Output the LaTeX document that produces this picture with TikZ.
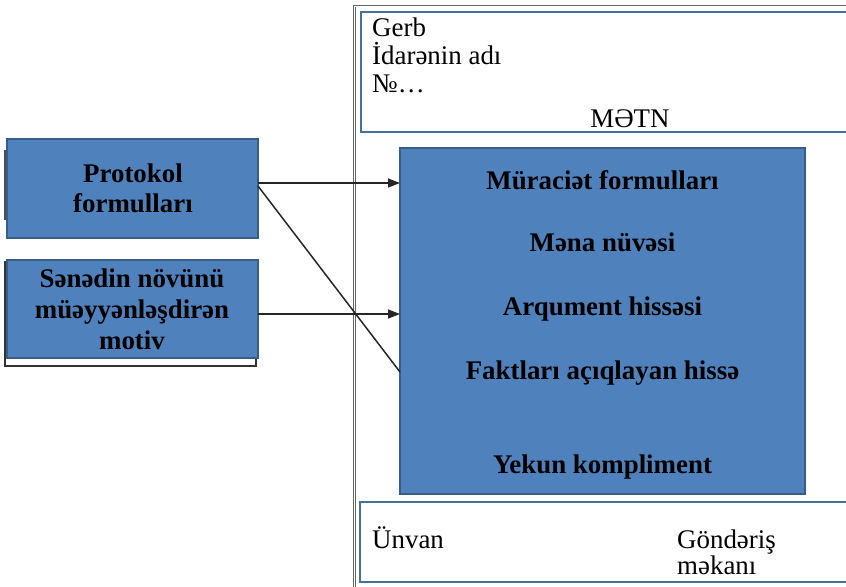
\documentclass[tikz,border=0pt]{standalone}
\usepackage{fontspec}
\setmainfont{Liberation Serif}
\usetikzlibrary{arrows.meta}
\definecolor{boxblue}{RGB}{79,129,189}
\definecolor{boxedge}{RGB}{56,93,138}
\definecolor{frameblue}{RGB}{65,113,156}
\tikzset{
  bluebox/.style={draw=boxedge, line width=1.4bp, fill=boxblue, inner sep=0pt, outer sep=0pt},
  whitebox/.style={draw=frameblue, line width=1.8bp, fill=white},
  btxt/.style={anchor=base, inner sep=0pt, font=\fontsize{27}{30}\selectfont\bfseries},
  rtxt/.style={anchor=base west, inner sep=0pt, font=\fontsize{27}{30}\selectfont},
  conn/.style={line width=1.5bp, draw=black!85},
  arr/.style={conn, -{Triangle[length=12bp,width=9bp]}}
}
\begin{document}
\begin{tikzpicture}[x=1bp,y=-1bp]
\useasboundingbox (0,0) rectangle (846,587);
% outer frame
\draw[double=white, draw=gray!80!black, line width=0.8bp, double distance=0.9bp] (354.5,600) -- (354.5,6) -- (860,6);
% top box
\draw[whitebox] (361,12) rectangle (860,132);
\node[rtxt] (gerb) at (372,37) {Gerb};
\node[rtxt] (idare) at (372,65) {İdarənin adı};
\node[rtxt] (nomre) at (372,93) {№…};
\node[btxt, font=\fontsize{27}{30}\selectfont] (metn) at (630,128) {MƏTN};
% bottom box
\draw[whitebox] (360,502) rectangle (860,582);
\node[rtxt] (unvan) at (372,548) {Ünvan};
\node[rtxt] (gonderis) at (677,548) {Göndəriş};
\node[rtxt] (mekani) at (677,574) {məkanı};
% main box
\node[bluebox, minimum width=405bp, minimum height=346bp] (main) at (602.5,321) {};
\node[btxt] (t1) at (602.5,190) {Müraciət formulları};
\node[btxt] (t2) at (602.5,252) {Məna nüvəsi};
\node[btxt] (t3) at (602.5,315) {Arqument hissəsi};
\node[btxt] (t4) at (602.5,379) {Faktları açıqlayan hissə};
\node[btxt] (t5) at (602.5,473) {Yekun kompliment};
% left box 1
\draw[line width=2.2bp, draw=black!70] (5.5,150) -- (5.5,220);
\node[bluebox, minimum width=251bp, minimum height=99bp] (p1) at (132.5,188.5) {};
\node[btxt] (p1a) at (133,183) {Protokol};
\node[btxt] (p1b) at (133,213) {formulları};
% left box 2
\draw[line width=1.2bp, draw=black!80, fill=white] (5,262) rectangle (256,366);
\node[bluebox, minimum width=251bp, minimum height=98bp] (p2) at (132.5,309) {};
\node[btxt] (p2a) at (132,287) {Sənədin növünü};
\node[btxt] (p2b) at (132,318) {müəyyənləşdirən};
\node[btxt] (p2c) at (132,349) {motiv};
% connectors
\draw[arr] ([yshift=5.5bp]p1.east) -- ([yshift=5.5bp]p1.east -| main.west);
\draw[arr] ([yshift=-5bp]p2.east) -- ([yshift=-5bp]p2.east -| main.west);
\draw[conn] ([yshift=2.5bp]p1.east) -- ([yshift=-51bp]main.west);
\end{tikzpicture}
\end{document}
